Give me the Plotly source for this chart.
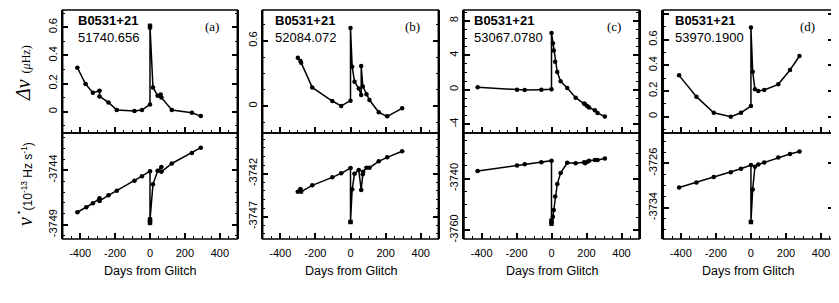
import plotly.graph_objects as go

# ---------------- data ----------------
panel_ids = ["(a)", "(b)", "(c)", "(d)"]
pulsar_name = "B0531+21"
glitch_epochs = ["51740.656", "52084.072", "53067.0780", "53970.1900"]

# panel (a)
a_top_days = [-416, -369, -327, -289, -289, -238, -190, -89, -46, 0, 0, 17, 44, 61, 65, 125, 240, 291]
a_top_dnu = [0.313, 0.197, 0.135, 0.149, 0.109, 0.066, 0.012, 0.005, 0.012, 0.052, 0.605, 0.173, 0.114, 0.123, 0.102, 0.012, -0.007, -0.031]
a_top_err = [0, 0, 0, 0, 0, 0, 0, 0, 0, 0, 0.018, 0, 0, 0, 0, 0, 0, 0]
a_bot_days = [-416, -365, -327, -289, -289, -238, -190, -89, -46, 0, 0, 0, 17, 44, 65, 65, 125, 240, 291]
a_bot_nudot = [-3747.85, -3747.39, -3747.03, -3746.58, -3746.82, -3746.30, -3745.88, -3744.97, -3744.55, -3744.09,
               -3748.79, -3748.55, -3745.30, -3744.06, -3743.70, -3744.15, -3743.39, -3742.42, -3741.94]
a_bot_err = [0, 0, 0, 0, 0, 0, 0, 0, 0, 0, 0.2, 0.2, 0, 0, 0, 0, 0, 0, 0]

# panel (b)
b_top_days = [-300, -285, -281, -218, -104, -53, 0, 0, 9.5, 23, 47, 61, 61, 70, 91, 108, 161, 209, 294]
b_top_dnu = [0.444, 0.413, 0.398, 0.171, 0.046, 0.0, 0.049, 0.716, 0.361, 0.223, 0.160, 0.101, 0.368, 0.180, 0.107, 0.055, -0.058, -0.095, -0.021]
b_bot_days = [-300, -285, -281, -218, -104, -53, 0, 0, 9.5, 23, 47, 61, 70, 72, 91, 108, 161, 209, 294]
b_bot_nudot = [-3744.09, -3743.78, -3744.09, -3743.36, -3742.43, -3741.96, -3741.34, -3747.62, -3743.82, -3742.0,
               -3741.57, -3743.90, -3742.08, -3741.77, -3741.30, -3741.30, -3740.57, -3740.10, -3739.40]
b_bot_err = [0, 0, 0, 0, 0, 0, 0, 0.1, 0, 0, 0, 0, 0, 0, 0, 0, 0, 0, 0]

# panel (c)
c_top_days = [-422, -197, -153, -58, 0, 0, 8, 13, 21, 33, 52, 90, 138, 186, 192, 205, 215, 248, 263, 305]
c_top_dnu = [0.27, 0.0, -0.04, 0.0, 0.04, 6.6, 5.4, 4.55, 3.24, 2.05, 0.97, 0.19, -0.93, -1.62, -1.70, -1.93, -2.08, -2.39, -2.70, -3.13]
c_bot_days = [-422, -197, -153, -58, 0, 0, 0, 8, 13, 21, 33, 52, 90, 138, 186, 192, 205, 215, 248, 263, 305]
c_bot_nudot = [-3737.0, -3734.9, -3734.4, -3733.6, -3733.0, -3757.4, -3756.5, -3754.8, -3752.2, -3746.9, -3742.1,
               -3737.8, -3733.8, -3734.0, -3733.6, -3734.0, -3733.4, -3733.0, -3732.7, -3732.7, -3732.1]
c_bot_err = [0, 0, 0, 0, 0, 0.8, 0.8, 0, 0, 0, 0, 0, 0, 0, 0, 0, 0, 0, 0, 0, 0]

# panel (d)
d_top_days = [-410, -311, -212, -115, -57, 0, 0, 10, 23, 42, 76, 156, 223, 277]
d_top_dnu = [0.322, 0.156, 0.031, 0.0, 0.031, 0.083, 0.694, 0.351, 0.213, 0.200, 0.208, 0.252, 0.364, 0.473]
d_bot_days = [-410, -311, -212, -115, -57, 0, 0, 10, 23, 42, 76, 156, 223, 277]
d_bot_nudot = [-3730.34, -3729.43, -3728.47, -3727.57, -3726.96, -3726.30, -3736.6, -3730.7, -3726.6, -3726.18,
               -3725.82, -3724.92, -3724.31, -3723.83]
d_bot_err = [0, 0, 0, 0, 0, 0, 0.2, 0, 0, 0, 0, 0, 0, 0]

# tick labels
x_tick_vals = [-400, -200, 0, 200, 400]
x_tick_text = ["-400", "-200", "0", "200", "400"]
top_tick_vals = [[0, 0.2, 0.4, 0.6], [0, 0.6], [-4, 0, 4, 8], [0, 0.2, 0.4, 0.6, 0.8]]
top_tick_text = [["0", "0.2", "0.4", "0.6"], ["0", "0.6"], ["-4", "0", "4", "8"], ["0", "0.2", "0.4", "0.6", "0.8"]]
bot_tick_vals = [[-3749, -3744], [-3747, -3742], [-3760, -3740], [-3734, -3726]]
bot_tick_text = [["-3749", "-3744"], ["-3747", "-3742"], ["-3760", "-3740"], ["-3734", "-3726"]]

# ---------------- layout geometry (styling) ----------------
PAGE_OFF = 8          # default body margin of the html page
W, H = 839 - PAGE_OFF, 303 - PAGE_OFF
px_left = [62.7, 262.7, 464.0, 663.3]
px_right = [237.3, 438.3, 639.0, 833.3]
px_top, px_mid, px_bot = 10.0, 133.0, 239.0
x_ranges = [[-500, 500], [-500, 500], [-500, 500], [-500, 470]]
top_ranges = [[-0.151, 0.723], [-0.248, 0.882], [-5.04, 9.27], [-0.127, 0.831]]
bot_ranges = [[-3750.3, -3740.6], [-3749.6, -3737.27], [-3763.5, -3722.2], [-3739.65, -3720.5]]
top_minor = [0.1, 0.15, 1, 0.1]
bot_minor = [1, 1, 5, 2]
name_left = [76, 273, 472, 673]


def fx(p):
    return (p - PAGE_OFF) / W


def fy(p):
    return 1 - (p - PAGE_OFF) / H


tick_font = dict(family="Liberation Sans, Arial, sans-serif", size=11, color="black")

top_data = [(a_top_days, a_top_dnu, a_top_err), (b_top_days, b_top_dnu, None),
            (c_top_days, c_top_dnu, None), (d_top_days, d_top_dnu, None)]
bot_data = [(a_bot_days, a_bot_nudot, a_bot_err), (b_bot_days, b_bot_nudot, b_bot_err),
            (c_bot_days, c_bot_nudot, c_bot_err), (d_bot_days, d_bot_nudot, d_bot_err)]

fig = go.Figure()
layout = dict(
    width=W, height=H,
    margin=dict(l=0, r=0, t=0, b=0, pad=0),
    paper_bgcolor="white", plot_bgcolor="white",
    showlegend=False,
    annotations=[],
    shapes=[],
)


def axid(n):
    return "" if n == 1 else str(n)


def add_series(xs, ys, err, n):
    symbols = ["square" if (err is not None and err[i] > 0) else "circle" for i in range(len(xs))]
    tr = go.Scatter(
        x=xs, y=ys, mode="lines+markers",
        line=dict(color="black", width=1.5),
        marker=dict(color="black", size=4.5, symbol=symbols),
        xaxis="x" + axid(n), yaxis="y" + axid(n),
        hoverinfo="skip",
    )
    if err is not None:
        tr.error_y = dict(type="data", array=err, visible=True, color="black", thickness=1, width=2)
    fig.add_trace(tr)


for i in range(4):
    nt, nb = 2 * i + 1, 2 * i + 2
    xs, ys, err = top_data[i]
    add_series(xs, ys, err, nt)
    xs, ys, err = bot_data[i]
    add_series(xs, ys, err, nb)

    common_x = dict(
        domain=[fx(px_left[i]), fx(px_right[i])], range=x_ranges[i], showgrid=False, zeroline=False,
        showline=False,
        tickmode="array", tickvals=x_tick_vals, ticktext=x_tick_text,
        ticks="inside", ticklen=6, tickwidth=2, tickcolor="black",
        minor=dict(ticks="inside", dtick=50, tick0=0, ticklen=3, tickwidth=1, tickcolor="black"),
        tickfont=tick_font, automargin=False,
    )
    layout["xaxis" + axid(nt)] = dict(common_x, anchor="y" + axid(nt), showticklabels=False)
    layout["xaxis" + axid(nb)] = dict(common_x, anchor="y" + axid(nb), showticklabels=True,
                                      ticklabelstandoff=6)
    common_y = dict(
        showgrid=False, zeroline=False, showline=True, linecolor="black", linewidth=1.5,
        mirror="ticks", ticks="inside", ticklen=6, tickwidth=2, tickcolor="black",
        tickmode="array", tickangle=-90, tickfont=tick_font, automargin=False,
    )
    layout["yaxis" + axid(nt)] = dict(
        common_y, domain=[fy(px_mid), fy(px_top)], range=top_ranges[i], anchor="x" + axid(nt),
        tickvals=top_tick_vals[i], ticktext=top_tick_text[i],
        minor=dict(ticks="inside", dtick=top_minor[i], tick0=0, ticklen=3, tickwidth=1, tickcolor="black"))
    layout["yaxis" + axid(nb)] = dict(
        common_y, domain=[fy(px_bot), fy(px_mid)], range=bot_ranges[i], anchor="x" + axid(nb),
        tickvals=bot_tick_vals[i], ticktext=bot_tick_text[i],
        minor=dict(ticks="inside", dtick=bot_minor[i], tick0=0, ticklen=3, tickwidth=1, tickcolor="black"))

    # panel frames
    for n in (nt, nb):
        layout["shapes"].append(dict(
            type="rect", xref="x" + axid(n) + " domain", yref="y" + axid(n) + " domain",
            x0=0, x1=1, y0=0, y1=1, line=dict(color="black", width=1.5), fillcolor="rgba(0,0,0,0)",
            layer="above"))

    # texts
    layout["annotations"].append(dict(
        x=fx(name_left[i]), y=fy(20.5), xref="paper", yref="paper", xanchor="left", yanchor="middle",
        text="<b>" + pulsar_name + "</b>", showarrow=False,
        font=dict(family="Liberation Sans, Arial, sans-serif", size=13, color="black")))
    layout["annotations"].append(dict(
        x=fx(name_left[i]), y=fy(37), xref="paper", yref="paper", xanchor="left", yanchor="middle",
        text=glitch_epochs[i], showarrow=False,
        font=dict(family="Liberation Sans, Arial, sans-serif", size=13, color="black")))
    layout["annotations"].append(dict(
        x=fx(px_right[i] - 16), y=fy(26), xref="paper", yref="paper", xanchor="right", yanchor="middle",
        text=panel_ids[i], showarrow=False,
        font=dict(family="Liberation Serif, Times New Roman, serif", size=13, color="black")))
    layout["annotations"].append(dict(
        x=fx((px_left[i] + px_right[i]) / 2), y=fy(271), xref="paper", yref="paper",
        xanchor="center", yanchor="middle", text="Days from Glitch", showarrow=False,
        font=dict(family="Liberation Sans, Arial, sans-serif", size=12.5, color="black")))

# y-axis titles
layout["annotations"].append(dict(
    x=fx(23), y=fy(73), xref="paper", yref="paper", xanchor="center", yanchor="middle", textangle=-90,
    text="<span style='font-size:20px'><i>Δν</i></span>  <span style='font-size:12px'>(<i>μ</i>Hz)</span>",
    showarrow=False, font=dict(family="Liberation Serif, Times New Roman, serif", size=12, color="black")))
layout["annotations"].append(dict(
    x=fx(25), y=fy(184), xref="paper", yref="paper", xanchor="center", yanchor="middle", textangle=-90,
    text="<span style='font-family:Liberation Serif;font-size:20px'><i>ν̇</i></span>  (10<sup>-13</sup> Hz s<sup>-1</sup>)",
    showarrow=False, font=dict(family="Liberation Sans, Arial, sans-serif", size=12, color="black")))

fig.update_layout(**layout)
fig.write_html("out.html")
